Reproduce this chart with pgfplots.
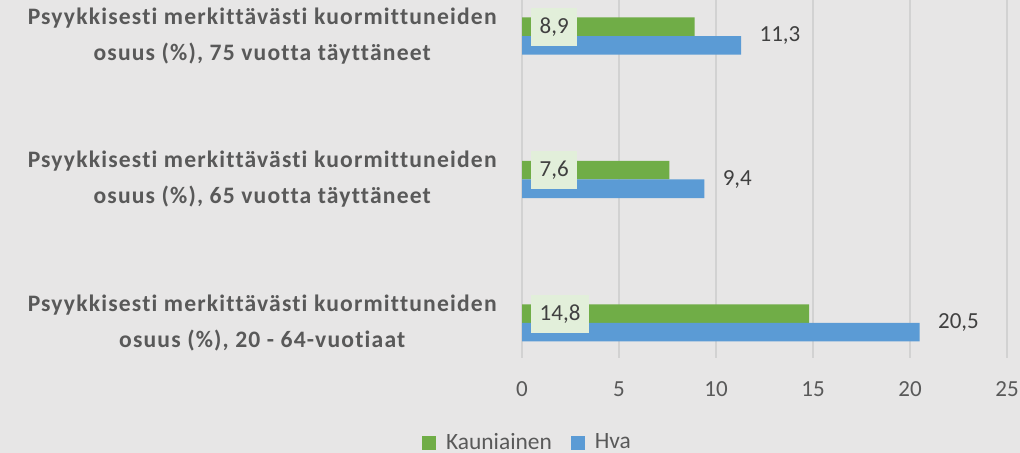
\documentclass[border=0pt]{standalone}
\usepackage{fontspec}
\setmainfont{Carlito}[Ligatures=NoCommon]
\newfontfamily\catfont{Carlito}[LetterSpace=5, Ligatures=NoCommon]
\usepackage{pgfplots}
\pgfplotsset{compat=1.18}
\usepackage{pgfplotstable}

\definecolor{bgc}{HTML}{E7E6E6}
\definecolor{gridc}{HTML}{D2D2D2}
\definecolor{txtc}{HTML}{595959}
\definecolor{valc}{HTML}{404040}
\definecolor{kaugreen}{HTML}{70AD47}
\definecolor{hvablue}{HTML}{5B9BD5}
\definecolor{lblbg}{HTML}{E2EFDA}

% idx: 0 = 20-64, 1 = 65+, 2 = 75+
\pgfplotstableread{
idx kau hva
0 14.8 20.5
1 7.6 9.4
2 8.9 11.3
}\datatab

\begin{document}
\begin{tikzpicture}
\fill[bgc] (0,0) rectangle (510pt,226.5pt);
\begin{axis}[
    at={(261pt,47.5pt)}, anchor=south west,
    scale only axis,
    width=242.5pt, height=179pt,
    xmin=0, xmax=25,
    ymin=-0.244, ymax=2.251,
    xtick={0,5,...,25},
    ytick={0,1,2},
    yticklabels={
        {Psyykkisesti merkittävästi kuormittuneiden\\[3.5pt]osuus (\%), 20 - 64-vuotiaat},
        {Psyykkisesti merkittävästi kuormittuneiden\\[3.5pt]osuus (\%), 65 vuotta täyttäneet},
        {Psyykkisesti merkittävästi kuormittuneiden\\[3.5pt]osuus (\%), 75 vuotta täyttäneet}},
    yticklabel style={align=center, anchor=east, inner sep=0pt, xshift=-12.5pt,
        font=\catfont\fontsize{11.8}{14.5}\selectfont\bfseries, text=txtc},
    xticklabel style={anchor=base, yshift=-19.5pt, font=\fontsize{11.5}{14}\selectfont, text=txtc},
    /pgf/number format/assume math mode=true,
    axis line style={draw=none},
    major tick length=0pt,
    xmajorgrids=true,
    grid style={gridc, line width=0.75pt},
    legend style={at={(0.0134,-0.2374)}, anchor=center, draw=none, fill=none,
        legend columns=2, font=\fontsize{11.7}{14}\selectfont, text=txtc,
        /tikz/every odd column/.append style={column sep=3pt},
        /tikz/every even column/.append style={column sep=7.5pt}},
    legend image code/.code={\fill[#1] (0pt,-3.5pt) rectangle (7pt,3.5pt);},
]
% Kauniainen
\addplot[xbar, bar width=0.129, bar shift=0.0645, fill=kaugreen, draw=none]
    table[x=kau, y=idx] {\datatab};
\addlegendentry{Kauniainen}
% Hva
\addplot[xbar, bar width=0.129, bar shift=-0.0645, fill=hvablue, draw=none,
    nodes near coords={\pgfmathprintnumber[use comma,fixed,fixed zerofill,precision=1]{\pgfplotspointmeta}},
    every node near coord/.append style={anchor=west, inner sep=0pt, xshift=9pt,
        font=\fontsize{11.5}{14}\selectfont, text=valc}]
    table[x=hva, y=idx] {\datatab};
\addlegendentry{Hva}
% Kauniainen value boxes near the start of the green bars
\addplot[forget plot, draw=none, mark=none, point meta=explicit,
    nodes near coords={\pgfmathprintnumber[use comma,fixed,fixed zerofill,precision=1]{\pgfplotspointmeta}},
    every node near coord/.style={anchor=west, fill=lblbg, inner xsep=4.3pt,
        minimum height=19pt, font=\fontsize{11.5}{14}\selectfont, text=valc}]
    table[x expr=0.45, y expr=\thisrow{idx}+0.0645, meta=kau] {\datatab};
\end{axis}
\pgfresetboundingbox
\path[use as bounding box] (0,0) rectangle (510pt,226.5pt);
\end{tikzpicture}
\end{document}
